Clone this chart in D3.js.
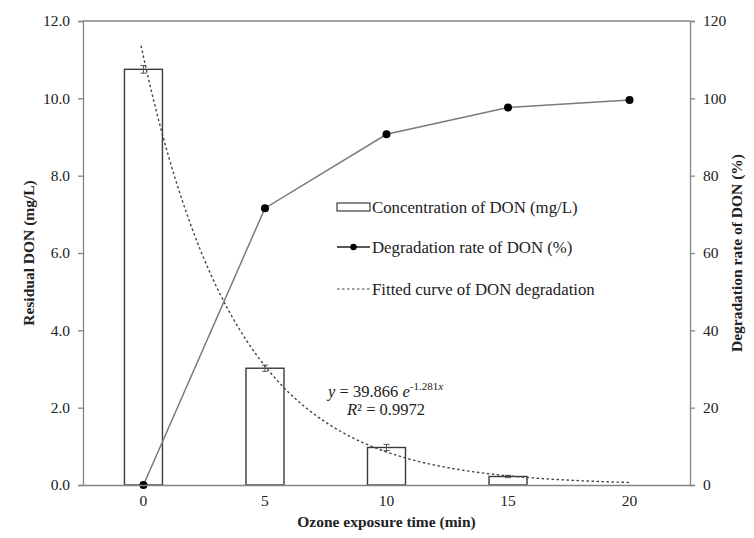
<!DOCTYPE html>
<html><head><meta charset="utf-8">
<script src="https://cdn.jsdelivr.net/npm/d3@7/dist/d3.min.js"></script>
<style>body{margin:0;background:#fff}svg{display:block}</style>
</head><body>
<script>
const times = ["0", "5", "10", "15", "20"];
const concentration = [10.75, 3.02, 0.97, 0.22, 0];
const concError = [0.1, 0.08, 0.08, 0.03, 0];
const degradation = [0, 71.6, 90.7, 97.6, 99.6];
const leftTicks = [0, 2, 4, 6, 8, 10, 12];
const rightTicks = [0, 20, 40, 60, 80, 100, 120];
const fitA = 39.866, fitB = 1.281; // printed fitted curve y = 39.866 e^(-1.281x), x = category index
const legendLabels = ["Concentration of DON (mg/L)", "Degradation rate of DON (%)", "Fitted curve of DON degradation"];

const W = 754, H = 538;
const m = {l: 83, r: 64, t: 21, b: 53};
const pw = W - m.l - m.r, ph = H - m.t - m.b;
const svg = d3.select("body").append("svg").attr("width", W).attr("height", H);
const g = svg.append("g").attr("transform", `translate(${m.l},${m.t})`);
const font = "'Liberation Serif', 'Times New Roman', serif";

const x = d3.scaleBand().domain(times).range([0, pw]).paddingInner(0.685).paddingOuter(0.34);
const xc = d => x(d) + x.bandwidth() / 2;
const yL = d3.scaleLinear().domain([0, 12]).range([ph, 0]);
const yR = d3.scaleLinear().domain([0, 120]).range([ph, 0]);
const axisCol = "#858585";

// frame top
g.append("line").attr("x1", 0).attr("x2", pw).attr("y1", 0).attr("y2", 0).attr("stroke", axisCol).attr("stroke-width", 1.3);

// bars
const bw = 38;
g.selectAll(".bar").data(times.slice(0, 4)).enter().append("rect")
  .attr("x", d => xc(d) - bw / 2).attr("width", bw)
  .attr("y", (d, i) => yL(concentration[i])).attr("height", (d, i) => ph - yL(concentration[i]))
  .attr("fill", "#fff").attr("stroke", "#3a3a3a").attr("stroke-width", 1.4);

// error bars
times.slice(0, 4).forEach((d, i) => {
  const cx = xc(d), e = concError[i], v = concentration[i];
  const eb = g.append("g").attr("stroke", "#555").attr("stroke-width", 1);
  eb.append("line").attr("x1", cx).attr("x2", cx).attr("y1", yL(v + e)).attr("y2", yL(v - e));
  eb.append("line").attr("x1", cx - 3).attr("x2", cx + 3).attr("y1", yL(v + e)).attr("y2", yL(v + e));
  eb.append("line").attr("x1", cx - 3).attr("x2", cx + 3).attr("y1", yL(v - e)).attr("y2", yL(v - e));
});

// fitted curve
const tx = d3.scaleLinear().domain([0, 20]).range([xc("0"), xc("20")]);
const curvePts = d3.range(-0.1, 20.01, 0.1).map(t => [t, fitA * Math.exp(-fitB * (t / 5 + 1))]);
g.append("path").datum(curvePts)
  .attr("d", d3.line().x(d => tx(d[0])).y(d => yL(d[1])))
  .attr("fill", "none").attr("stroke", "#444").attr("stroke-width", 1.4).attr("stroke-dasharray", "2.5,2.5");

// degradation line
g.append("path").datum(degradation)
  .attr("d", d3.line().x((d, i) => xc(times[i])).y(d => yR(d)))
  .attr("fill", "none").attr("stroke", "#7a7a7a").attr("stroke-width", 1.5);
g.selectAll(".pt").data(degradation).enter().append("circle")
  .attr("cx", (d, i) => xc(times[i])).attr("cy", d => yR(d)).attr("r", 4).attr("fill", "#000");

// axes
function styleAxis(sel) {
  sel.select(".domain").attr("stroke", axisCol).attr("stroke-width", 1.3);
  sel.selectAll(".tick line").attr("stroke", axisCol).attr("stroke-width", 1.3);
  sel.selectAll(".tick text").attr("font-family", font).attr("font-size", 15.5).attr("fill", "#222");
}
g.append("g").call(d3.axisLeft(yL).tickValues(leftTicks).tickFormat(d3.format(".1f")).tickSizeOuter(0).tickSize(5).tickPadding(8)).call(styleAxis);
g.append("g").attr("transform", `translate(${pw},0)`).call(d3.axisRight(yR).tickValues(rightTicks).tickSizeOuter(0).tickSize(5).tickPadding(8)).call(styleAxis);
g.append("g").attr("transform", `translate(0,${ph})`).call(d3.axisBottom(x).tickSize(0).tickSizeOuter(0).tickPadding(10)).call(styleAxis);

// axis titles
svg.append("text").attr("x", m.l + pw / 2).attr("y", 527).attr("text-anchor", "middle")
  .attr("font-family", font).attr("font-weight", "bold").attr("font-size", 15.5).attr("fill", "#222").text("Ozone exposure time (min)");
svg.append("text").attr("transform", `translate(34,${m.t + ph / 2}) rotate(-90)`).attr("text-anchor", "middle")
  .attr("font-family", font).attr("font-weight", "bold").attr("font-size", 15.5).attr("fill", "#222").text("Residual DON (mg/L)");
svg.append("text").attr("transform", `translate(742,${m.t + ph / 2}) rotate(-90)`).attr("text-anchor", "middle")
  .attr("font-family", font).attr("font-weight", "bold").attr("font-size", 15.5).attr("fill", "#222").text("Degradation rate of DON (%)");

// legend
const lg = svg.append("g").attr("font-family", font).attr("font-size", 16.8).attr("fill", "#222");
const lx = 337, ly = [207, 247, 289];
lg.append("rect").attr("x", lx).attr("y", ly[0] - 4).attr("width", 33).attr("height", 8).attr("fill", "#fff").attr("stroke", "#3a3a3a").attr("stroke-width", 1.2);
lg.append("line").attr("x1", lx).attr("x2", lx + 33).attr("y1", ly[1]).attr("y2", ly[1]).attr("stroke", "#222").attr("stroke-width", 1.3);
lg.append("circle").attr("cx", lx + 16.5).attr("cy", ly[1]).attr("r", 3.2).attr("fill", "#000");
lg.append("line").attr("x1", lx).attr("x2", lx + 33).attr("y1", ly[2]).attr("y2", ly[2]).attr("stroke", "#444").attr("stroke-width", 1.2).attr("stroke-dasharray", "2.5,2.5");
legendLabels.forEach((t, i) => lg.append("text").attr("x", lx + 35).attr("y", ly[i]).attr("dy", "0.35em").attr("fill", "#222").text(t));

// equation
const eq = svg.append("text").attr("x", 328).attr("y", 397).attr("font-family", font).attr("font-size", 16.5).attr("fill", "#222");
eq.append("tspan").attr("font-style", "italic").text("y");
eq.append("tspan").text(" = 39.866 ");
eq.append("tspan").attr("font-style", "italic").text("e");
eq.append("tspan").attr("font-size", 11).attr("dy", -7).text("-1.281");
eq.append("tspan").attr("font-size", 11).attr("font-style", "italic").text("x");
const r2 = svg.append("text").attr("x", 347).attr("y", 415).attr("font-family", font).attr("font-size", 16.5).attr("fill", "#222");
r2.append("tspan").attr("font-style", "italic").text("R");
r2.append("tspan").text("² = 0.9972");
</script>
</body></html>
